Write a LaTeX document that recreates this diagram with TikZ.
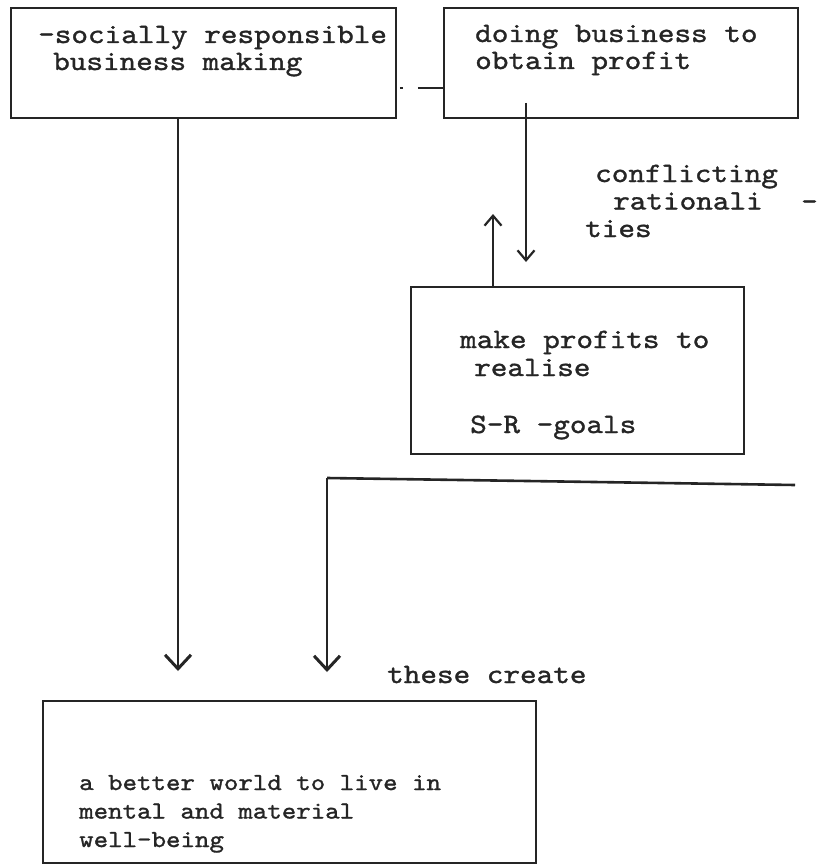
\documentclass[tikz,border=0pt]{standalone}
\usepackage{fontspec}
\newfontfamily\typew[FakeStretch=1.13,FakeBold=1.2]{lmmono10-regular.otf}
\usetikzlibrary{arrows.meta,calc}
\definecolor{ink}{HTML}{252525}
\begin{document}
\begin{tikzpicture}[x=1pt,y=-1pt,
  box/.style={draw=ink,line width=1.8pt,rectangle,anchor=north west,inner sep=0pt},
  txt/.style={anchor=base west,inner sep=0pt,text=ink,align=left,
    font=\typew\fontsize{28}{27}\selectfont},
  smalltxt/.style={txt,font=\typew\fontsize{24.4}{28.5}\selectfont},
  conn/.style={draw=ink,line width=1.4pt},
  bigtip/.style={conn,-{Straight Barb[length=14pt,width=26pt,line width=3pt]}},
  smalltip/.style={conn,-{Straight Barb[length=10pt,width=17pt,line width=2.2pt]}}]
\useasboundingbox (0,0) rectangle (829,864);
\fill[white] (0,0) rectangle (829,864);

% boxes
\node[box,minimum width=385pt,minimum height=110pt] (A) at (10,7) {};
\node[box,minimum width=354pt,minimum height=110pt] (B) at (443,7) {};
\node[box,minimum width=333pt,minimum height=167pt] (C) at (410,286) {};
\node[box,minimum width=493pt,minimum height=162pt] (D) at (42,700) {};

% box texts (each node is anchored at the baseline of its last line)
\node[txt] (ta) at (38,70) {-socially responsible\\\hspace*{15pt}business making};
\node[txt] (tb) at (475,69) {doing business to\\obtain profit};
\node[txt,font=\typew\fontsize{28}{28}\selectfont] (tc) at (460,433)
  {make profits to\\\hspace*{14pt}realise\\[29pt]\hspace*{10pt}S-R -goals};
\node[smalltxt] (td) at (79,847) {a better world to live in\\mental and material\\well-being};

% free labels
\node[txt,font=\typew\fontsize{28}{27.5}\selectfont] (lc) at (585,237)
  {\hspace*{10pt}conflicting\\\hspace*{28pt}rationali\\ties};
\node[txt] (lm) at (801,210) {-};
\node[txt] (lt) at (387,683) {these create};

% connector end points
\coordinate (ab) at (0,88);
\coordinate (bStart) at (526,103);
\coordinate (bTip) at (526,262);
\coordinate (cTip) at (493,214);
\coordinate (aTip) at (178,671);
\coordinate (hEnd) at (795,485);
\coordinate (hCorner) at (327,478);
\coordinate (eTip) at (327,672);

% connectors
\draw[conn,line width=1.6pt,dash pattern=on 0pt off 3pt on 3pt off 15pt on 40pt] (A.east |- ab) -- (B.west |- ab);
\draw[bigtip] (A.south -| aTip) -- (aTip);
\draw[smalltip] (bStart) -- (bTip);
\draw[smalltip] (C.north -| cTip) -- (cTip);
\draw[conn,line width=2.6pt] (hEnd) -- (hCorner);
\draw[bigtip] (hCorner) -- (eTip);
\end{tikzpicture}
\end{document}
